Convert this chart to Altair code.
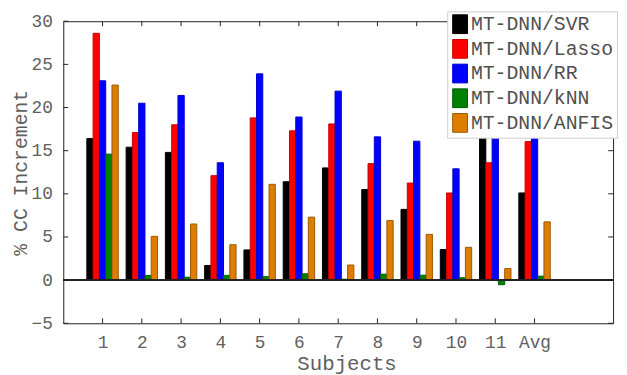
import altair as alt
import pandas as pd

subjects = ["1", "2", "3", "4", "5", "6", "7", "8", "9", "10", "11", "Avg"]
series = ["MT-DNN/SVR", "MT-DNN/Lasso", "MT-DNN/RR", "MT-DNN/kNN", "MT-DNN/ANFIS"]
svr = [16.4, 15.4, 14.8, 1.7, 3.5, 11.4, 13.0, 10.5, 8.2, 3.55, 17.2, 10.1]
lasso = [28.6, 17.1, 18.0, 12.1, 18.8, 17.3, 18.1, 13.5, 11.25, 10.1, 13.6, 16.05]
rr = [23.1, 20.5, 21.4, 13.6, 23.9, 18.9, 21.9, 16.6, 16.1, 12.9, 17.2, 19.0]
knn = [14.6, 0.54, 0.34, 0.55, 0.4, 0.73, 0.1, 0.69, 0.57, 0.27, -0.53, 0.46]
anfis = [22.6, 5.07, 6.5, 4.1, 11.1, 7.3, 1.75, 6.9, 5.3, 3.8, 1.34, 6.75]
y_ticks = [-5, 0, 5, 10, 15, 20, 25, 30]

fills = ["#000000", "#ff0000", "#0000ff", "#008000", "#de7d00"]
strokes = ["#000000", "#c80000", "#0000d0", "#005c00", "#9a5800"]

values = [svr, lasso, rr, knn, anfis]
rows = []
n = len(series)
bw = 0.8 / n
for si, (name, vals) in enumerate(zip(series, values)):
    off = (si - (n - 1) / 2) * bw
    for gi, (subj, v) in enumerate(zip(subjects, vals)):
        c = gi + 1 + off
        rows.append({"subject": subj, "series": name, "value": v,
                     "x0": c - bw / 2, "x1": c + bw / 2, "zero": 0})
df = pd.DataFrame(rows)

xt = pd.DataFrame({"x0": list(range(1, len(subjects) + 1))})
yt = pd.DataFrame({"value": y_ticks})

W, H = 557, 306
FONT = "Liberation Mono"
GREY = "#606060"

xscale = alt.Scale(domain=[0, 14], nice=False, zero=False)
yscale = alt.Scale(domain=[-5, 30], nice=False)

label_expr = "datum.value == 12 ? 'Avg' : datum.value"
sym = "M-0.79,-1H0.79V1H-0.79Z"

bars = alt.Chart(df).mark_bar(strokeWidth=1).encode(
    x=alt.X("x0:Q", scale=xscale,
            axis=alt.Axis(values=list(range(1, 13)), labelExpr=label_expr,
                          title="Subjects", titleX=287)),
    x2="x1:Q",
    y=alt.Y("value:Q", scale=yscale,
            axis=alt.Axis(values=y_ticks, title="% CC Increment", titleFontSize=20)),
    y2="zero:Q",
    fill=alt.Fill("series:N", scale=alt.Scale(domain=series, range=fills),
                  legend=alt.Legend(title=None, orient="none", legendX=389, legendY=-10)),
    stroke=alt.Stroke("series:N", scale=alt.Scale(domain=series, range=strokes),
                      legend=alt.Legend(title=None, orient="none", legendX=389, legendY=-10)),
)

zero_line = alt.Chart(yt).mark_rule(color="#222222", strokeWidth=1).encode(
    y=alt.datum(0, scale=yscale))

tick_color = "#222222"
bottom_ticks = alt.Chart(xt).mark_rule(color=tick_color).encode(
    x=alt.X("x0:Q", scale=xscale), y=alt.value(H), y2=alt.value(H - 5))
top_ticks = alt.Chart(xt).mark_rule(color=tick_color).encode(
    x=alt.X("x0:Q", scale=xscale), y=alt.value(0), y2=alt.value(5))
left_ticks = alt.Chart(yt).mark_rule(color=tick_color).encode(
    y=alt.Y("value:Q", scale=yscale), x=alt.value(0), x2=alt.value(5))
right_ticks = alt.Chart(yt).mark_rule(color=tick_color).encode(
    y=alt.Y("value:Q", scale=yscale), x=alt.value(W - 5), x2=alt.value(W))

chart = alt.layer(bars, zero_line, bottom_ticks, top_ticks, left_ticks, right_ticks).properties(
    width=W, height=H,
    background="white",
    autosize=alt.AutoSizeParams(type="none"),
    padding={"left": 56, "top": 11, "right": 6, "bottom": 50},
).configure_view(
    stroke="#222222", strokeWidth=1
).configure_axis(
    tickSize=0, domain=False, grid=False,
    labelFont=FONT, labelFontSize=18, labelColor=GREY, labelPadding=11,
    titleFont=FONT, titleFontSize=21, titleFontWeight="normal", titleColor=GREY,
    titlePadding=1,
).configure_legend(
    symbolType=sym, symbolSize=361, symbolStrokeWidth=1,
    labelFont=FONT, labelFontSize=20, labelColor="#505050", labelOffset=1,
    rowPadding=1, padding=3, strokeColor="#cccccc", fillColor="white",
)

chart.save("out.html", embed_options={"renderer": "svg", "actions": False})
